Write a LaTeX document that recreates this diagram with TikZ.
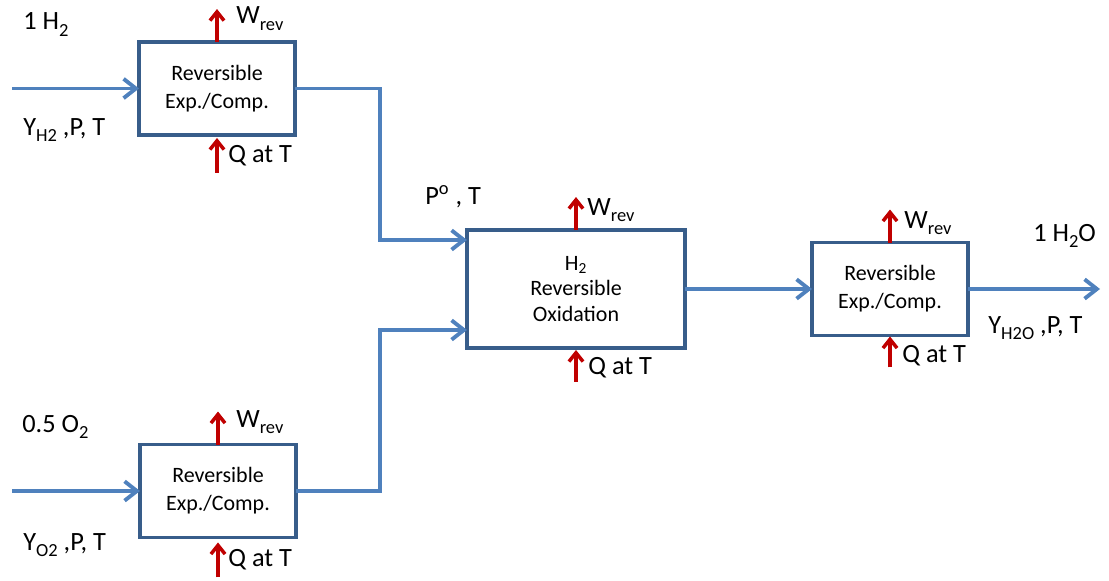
\documentclass[tikz,border=0pt]{standalone}
\usepackage{fontspec}
\setmainfont{Carlito}
\usetikzlibrary{arrows.meta}
\definecolor{FlowBlue}{HTML}{4F81BD}
\definecolor{BoxEdge}{HTML}{385D8A}
\definecolor{HeatRed}{HTML}{C00000}
\newcommand{\lowsub}[1]{\raisebox{-0.5ex}{\fontsize{10.5}{10.5}\selectfont #1}}

\begin{document}
\begin{tikzpicture}[x=0.02cm,y=-0.02cm,
  unit/.style={draw=BoxEdge,line width=2.2pt,fill=white,align=center,inner sep=2pt,outer sep=0pt,
    minimum width=3.12cm,minimum height=1.86cm,font=\fontsize{12.5}{16}\selectfont},
  flow/.style={draw=FlowBlue,line width=2.2pt,-{Straight Barb[length=7pt,width=11pt]}},
  heat/.style={draw=HeatRed,line width=2pt,-{Straight Barb[length=5pt,width=8pt]}},
  lbl/.style={anchor=base west,inner sep=0pt,font=\fontsize{15}{17}\selectfont}]
\path[use as bounding box] (0,0) rectangle (1109,581);
\node[unit] (expH) at (217,88.5) {Reversible\\Exp./Comp.};
\node[unit] (expO) at (218,491) {Reversible\\Exp./Comp.};
\node[unit,minimum width=4.36cm,minimum height=2.36cm,font=\fontsize{12.5}{14.5}\selectfont] (oxid) at (576,289) {H\textsubscript{2}\\Reversible\\Oxidation};
\node[unit] (expW) at (890,289) {Reversible\\Exp./Comp.};
\coordinate (inH) at (12,88.5);
\coordinate (inO) at (12,491);
\coordinate (joinH) at (380,240);
\coordinate (joinO) at (380,330);
\coordinate (outW) at (1100,289);
\draw[flow] (inH) -- (expH.west);
\draw[flow] (inO) -- (expO.west);
\draw[flow] (expH.east) -| (joinH) -- (joinH -| oxid.west);
\draw[flow] (expO.east) -| (joinO) -- (joinO -| oxid.west);
\draw[flow] (oxid.east) -- (expW.west);
\draw[flow] (expW.east) -- (outW);
\draw[heat] (expH.north) -- ++(0,-33);
\draw[heat] (expH.south) ++(0,38) -- ++(0,-35);
\draw[heat] (expO.north) -- ++(0,-33);
\draw[heat] (expO.south) ++(0,40) -- ++(0,-35);
\draw[heat] (oxid.north) -- ++(0,-33);
\draw[heat] (oxid.south) ++(0,34) -- ++(0,-32);
\draw[heat] (expW.north) -- ++(0,-33);
\draw[heat] (expW.south) ++(0,32) -- ++(0,-31);
\node[lbl] (nH) at (23,30) {1 H\lowsub{2}};
\node[lbl] (sH) at (23,135) {Y\lowsub{H2} ,P, T};
\node[lbl] (nO) at (22,432) {0.5 O\lowsub{2}};
\node[lbl] (sO) at (23,550) {Y\lowsub{O2} ,P, T};
\node[lbl] (sJ) at (425,204) {P\textsuperscript{o} , T};
\node[lbl] (nW) at (1033,241) {1 H\lowsub{2}O};
\node[lbl] (sW) at (988,333) {Y\lowsub{H2O} ,P, T};
\node[lbl] (wH) at (236,24) {W\lowsub{rev}};
\node[lbl] (qH) at (228,162) {Q at T};
\node[lbl] (wO) at (236,427) {W\lowsub{rev}};
\node[lbl] (qO) at (228,566) {Q at T};
\node[lbl] (wX) at (587,215) {W\lowsub{rev}};
\node[lbl] (qX) at (588,374) {Q at T};
\node[lbl] (wW) at (904,228) {W\lowsub{rev}};
\node[lbl] (qW) at (902,362) {Q at T};
\end{tikzpicture}
\end{document}
